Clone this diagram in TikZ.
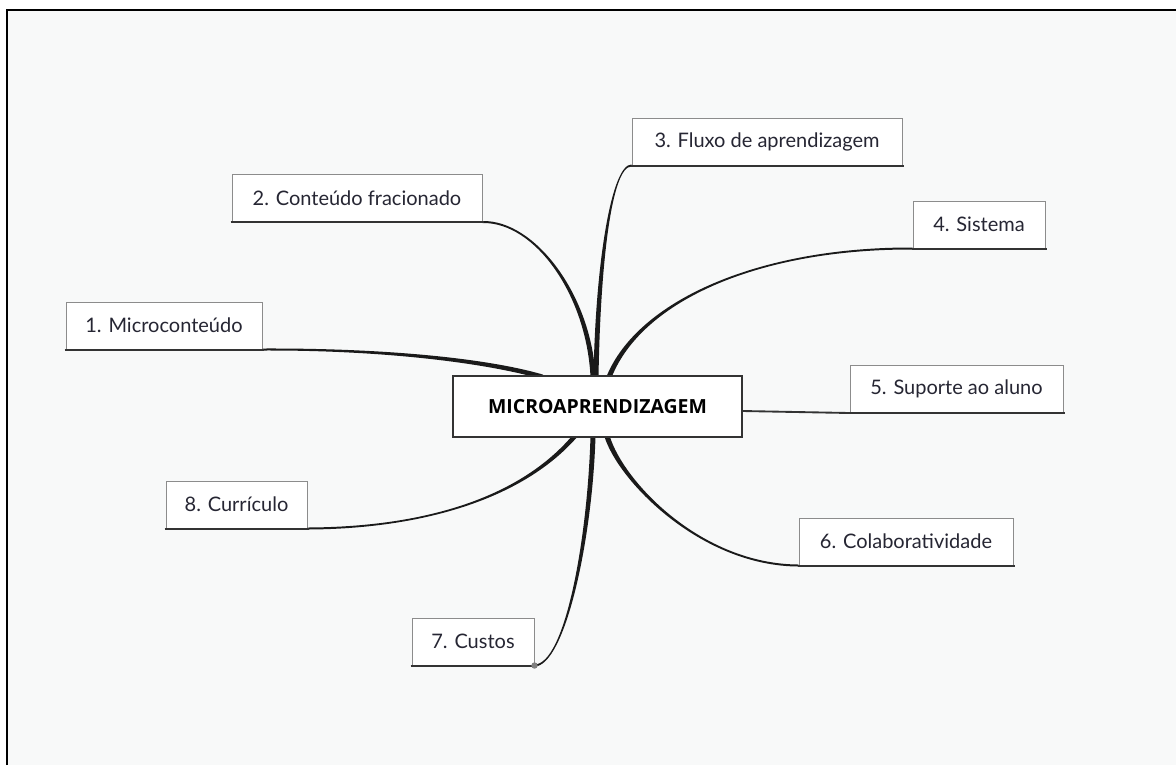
\documentclass[tikz,border=0pt]{standalone}
\usepackage{fontspec}
\setmainfont{Lato}
\newfontfamily\ctrfont{Open Sans}
\usetikzlibrary{calc}
\definecolor{bgc}{HTML}{F8F9F9}
\definecolor{boxline}{HTML}{8C8C8C}
\definecolor{underl}{HTML}{333333}
\definecolor{txtc}{HTML}{262633}
\definecolor{branchc}{HTML}{1A1A1A}
\newcommand\branchfill[6]{%
  \fill[branchc] ($(#1)+(#5)$) .. controls ($(#2)+(#5)$) and ($(#3)+(#6)$) .. ($(#4)+(#6)$)
    -- ($(#4)-(#6)$) .. controls ($(#3)-(#6)$) and ($(#2)-(#5)$) .. ($(#1)-(#5)$) -- cycle;}
\tikzset{
  topic/.style={draw=boxline, fill=white, line width=0.75pt, inner sep=0pt,
    minimum height=47*0.75pt, text=txtc, font=\fontsize{15pt}{18pt}\selectfont},
  central/.style={draw=underl, fill=white, line width=1.1pt, inner sep=0pt,
    minimum width=289*0.75pt, minimum height=61*0.75pt, text=black,
    font=\ctrfont\bfseries\fontsize{14.6pt}{17pt}\selectfont},
  underline/.style={draw=underl, line width=1.5pt},
  frameline/.style={draw=black, line width=1.5pt}
}
\begin{document}
\begin{tikzpicture}[x=0.75pt,y=-0.75pt]
\useasboundingbox (0,0) rectangle (1176,765);
\fill[white] (0,0) rectangle (1176,765);
\fill[bgc] (7,10) rectangle (1176,765);
\draw[frameline] (7,765) -- (7,10) -- (1176,10);

% topic nodes
\node[topic, minimum width=196*0.75pt] (n1) at (164,325.5) {1. Microconteúdo};
\node[topic, minimum width=250*0.75pt] (n2) at (357,198) {2. Conteúdo fracionado};
\node[topic, minimum width=270*0.75pt] (n3) at (767,141.5) {3. Fluxo de aprendizagem};
\node[topic, minimum width=132*0.75pt] (n4) at (979,224.5) {4. Sistema};
\node[topic, minimum width=213*0.75pt] (n5) at (956.5,389) {5. Suporte ao aluno};
\node[topic, minimum width=214*0.75pt] (n6) at (906,541.5) {6. Colaboratividade};
\node[topic, minimum width=122*0.75pt] (n7) at (473,641.5) {7. Custos};
\node[topic, minimum width=141*0.75pt] (n8) at (236.5,504.5) {8. Currículo};

% convergence points on the central topic
\coordinate (b1) at (543,377);
\coordinate (b2) at (593,377);
\coordinate (b3) at (596,377);
\coordinate (b4) at (609,377);
\coordinate (b6) at (607,436);
\coordinate (b7) at (593,436);
\coordinate (b8) at (575,436);

% tapered branches
\branchfill{n1.south east}{380,349}{485,360}{b1}{0,1}{0,2.4}
\branchfill{n2.south east}{535,221}{589,295}{b2}{0,1}{-2.5,0}
\branchfill{n3.south west}{612,165}{598,260}{b3}{0,1}{2.5,0}
\branchfill{n4.south west}{760,248}{640,300}{b4}{0,1}{2.7,0}
\branchfill{n6.south west}{700,565}{620,480}{b6}{0,1}{-2.7,0}
\branchfill{n7.south east}{565,665}{590,540}{b7}{0,1}{2.5,0}
\branchfill{n8.south east}{420,528}{520,500}{b8}{0,1}{3,0}

% central topic
\node[central] (ctr) at (597.5,406.5) {MICROAPRENDIZAGEM};
\draw[underline, line width=1.4pt] (ctr.east |- 0,411) -- (n5.south west);

% underlines of topics
\foreach \n in {n1,n2,n3,n4,n5,n6,n7,n8}{
  \draw[underline] ($(\n.south west)+(-1,0)$) -- ($(\n.south east)+(1,0)$);
}
\fill[gray] (n7.south east) circle[radius=2.4pt];
\end{tikzpicture}
\end{document}
